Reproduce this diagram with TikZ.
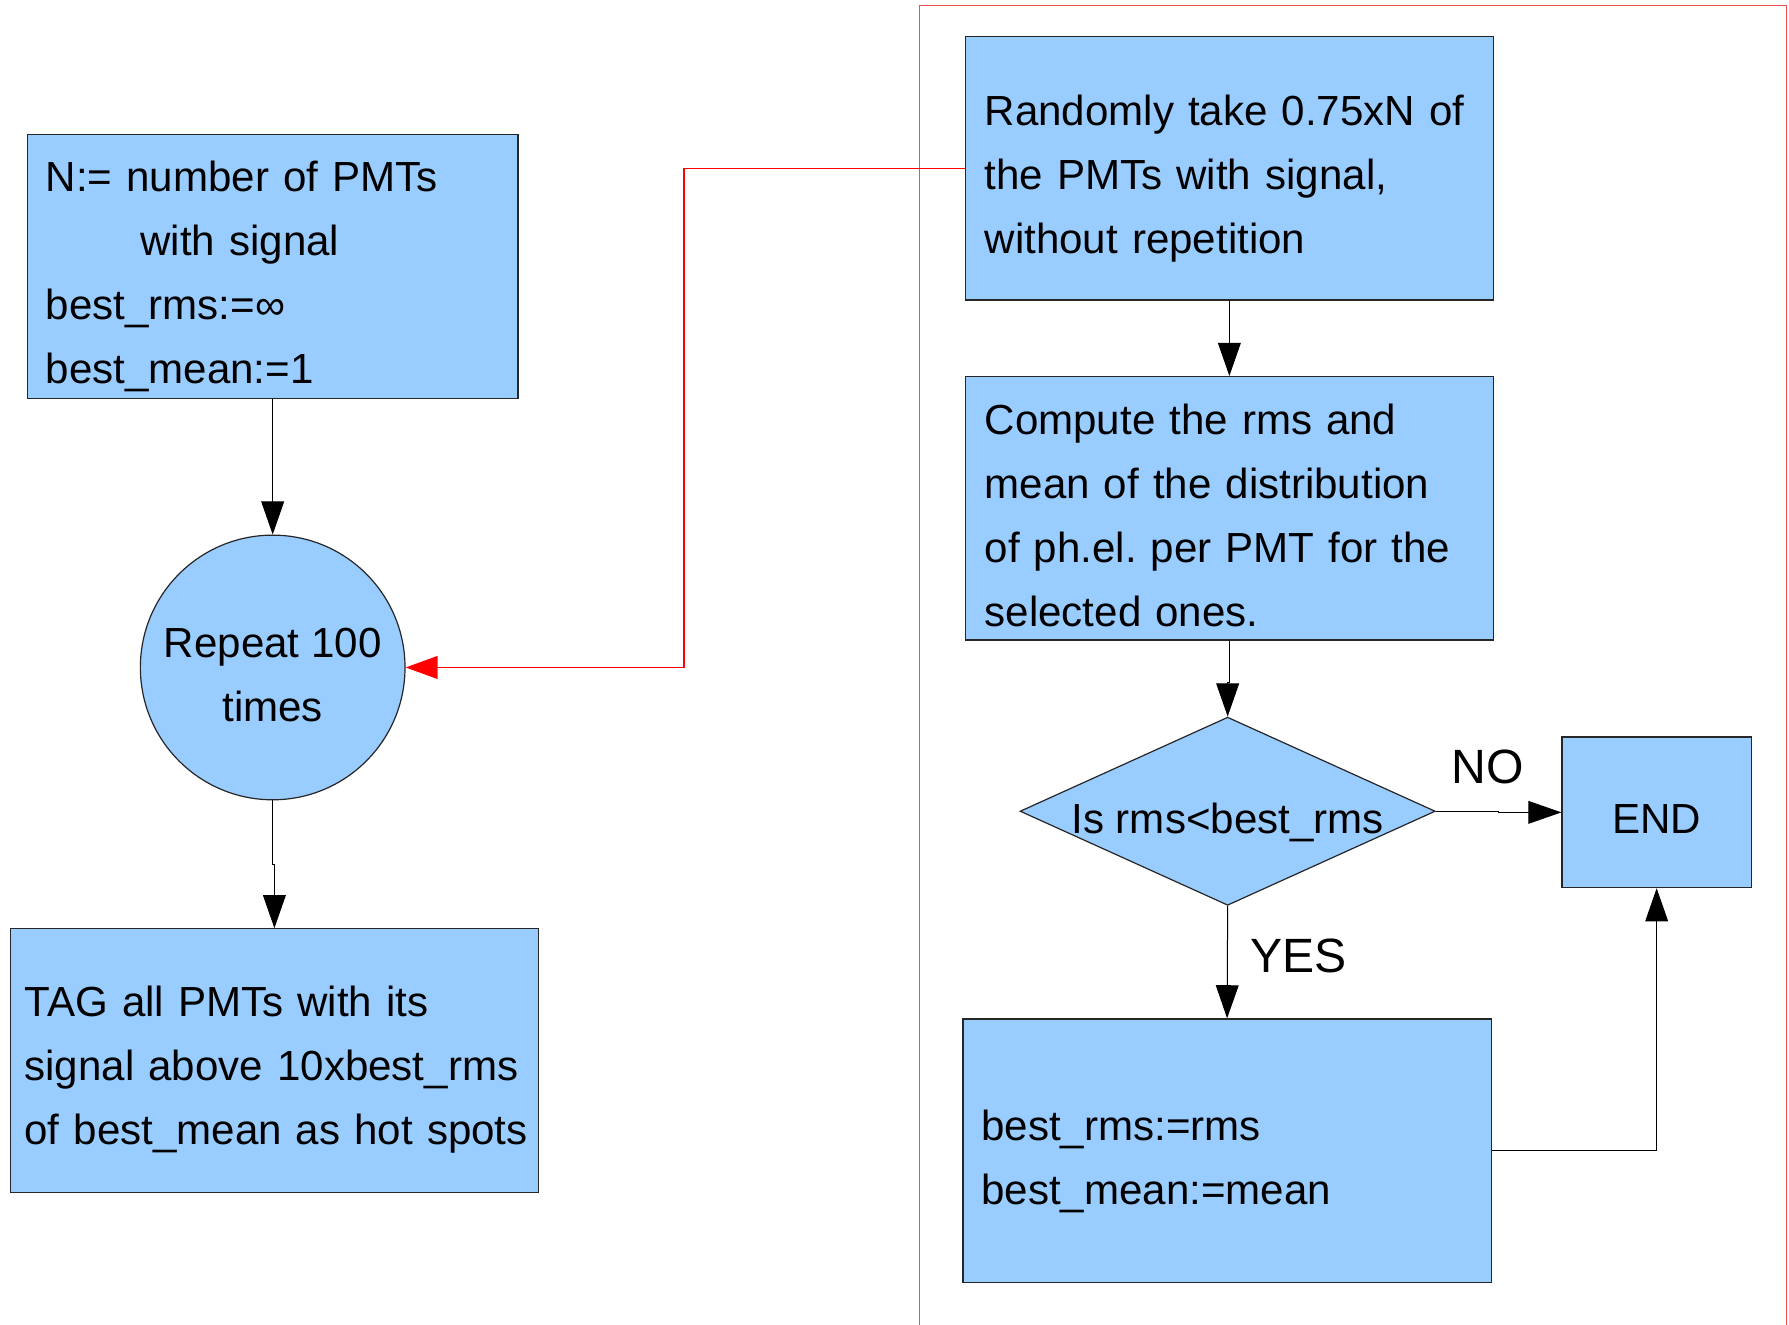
\documentclass[tikz,border=0pt]{standalone}
\usepackage{fontspec}
\setmainfont{Liberation Sans}
\usetikzlibrary{arrows.meta,shapes.geometric}
\definecolor{boxblue}{HTML}{99CCFF}
\definecolor{framered}{HTML}{F05050}
\newcommand\fs{\fontsize{21pt}{31.9pt}\selectfont\frenchspacing}
\newcommand\lfs{\fontsize{24pt}{30pt}\selectfont}
\newcommand\topstrut[1]{\rule{0pt}{#1}}
\tikzset{
  flowbox/.style={draw=black!85, fill=boxblue, line width=0.6pt, rectangle, align=left, inner ysep=0pt, font=\fs},
  roundnode/.style={draw=black!85, fill=boxblue, line width=0.6pt, circle, align=center, inner sep=0pt, font=\fs},
  decision/.style={draw=black!85, fill=boxblue, line width=0.6pt, diamond, aspect=2.2, inner sep=0pt, font=\fs},
  conn/.style={line width=0.5pt, -{Triangle[length=0.58cm,width=0.4cm]}},
  redconn/.style={red, line width=0.6pt, -{Triangle[length=0.56cm,width=0.4cm]}},
  lbl/.style={font=\lfs, inner sep=0pt},
}
\begin{document}
\begin{tikzpicture}[x=0.02cm, y=-0.02cm]
\useasboundingbox (0,0) rectangle (1568,1161);
% group frame
\draw[framered, line width=0.6pt] (806,1161) -- (806,5) -- (1566,5) -- (1566,1161);

\node[flowbox, inner xsep=0.32cm, text width=7.96cm, minimum height=4.62cm] (init) at (239,233.5)
  {\topstrut{0.9cm}N:= number of PMTs\\\hspace*{1.66cm}with signal\\best\_rms:=∞\\best\_mean:=1};
\node[roundnode, minimum size=4.64cm] (rep) at (239,585) {\topstrut{0.78cm}Repeat 100~\\times};
\node[flowbox, inner xsep=0.25cm, text width=8.76cm, minimum height=4.62cm] (tag) at (240.5,929.5)
  {\topstrut{0.86cm}\mbox{TAG all PMTs with its}\\\mbox{signal above 10xbest\_rms}\\\mbox{of best\_mean as hot spots}};

\node[flowbox, inner xsep=0.34cm, text width=8.58cm, minimum height=4.62cm] (rand) at (1077.5,147.5)
  {\topstrut{0.9cm}Randomly take 0.75xN of\\the PMTs with signal,\\without repetition};
\node[flowbox, inner xsep=0.34cm, text width=8.58cm, minimum height=4.62cm] (comp) at (1077.5,445.5)
  {\topstrut{0.78cm}Compute the rms and\\mean of the distribution\\of ph.el. per PMT for the\\selected ones.};
\node[decision, minimum width=7.28cm, minimum height=3.3cm] (dec) at (1076,711)
  {\raisebox{-0.16cm}[0.55cm][0.1cm]{Is rms<best\_rms}};
\node[flowbox, align=center, minimum width=3.32cm, minimum height=2.64cm] (fin) at (1452,712)
  {\raisebox{-0.1cm}[0.54cm][0cm]{END}};
\node[flowbox, inner xsep=0.32cm, text width=8.62cm, minimum height=4.62cm] (best) at (1075.5,1008.5)
  {\topstrut{0.9cm}best\_rms:=rms\\best\_mean:=mean};

\node[lbl] (nolbl) at (1304,672) {NO};
\node[lbl] (yeslbl) at (1138,838) {YES};

\draw[conn] (init.south) -- (rep.north);
\draw[conn] (rep.south) -- ++(0,56) -| (tag.north);
\draw[conn] (rand.south) -- (comp.north);
\draw[conn] (comp.south) -- ++(0,37) -| (dec.north);
\draw[conn] (dec.south) -- (best.north);
\draw[conn] (dec.east) -- ++(55,0) |- (fin.west);
\draw[conn] (best.east) -| (fin.south);
\draw[redconn] (rand.west) -- ++(-246,0) |- (rep.east);
\end{tikzpicture}
\end{document}
